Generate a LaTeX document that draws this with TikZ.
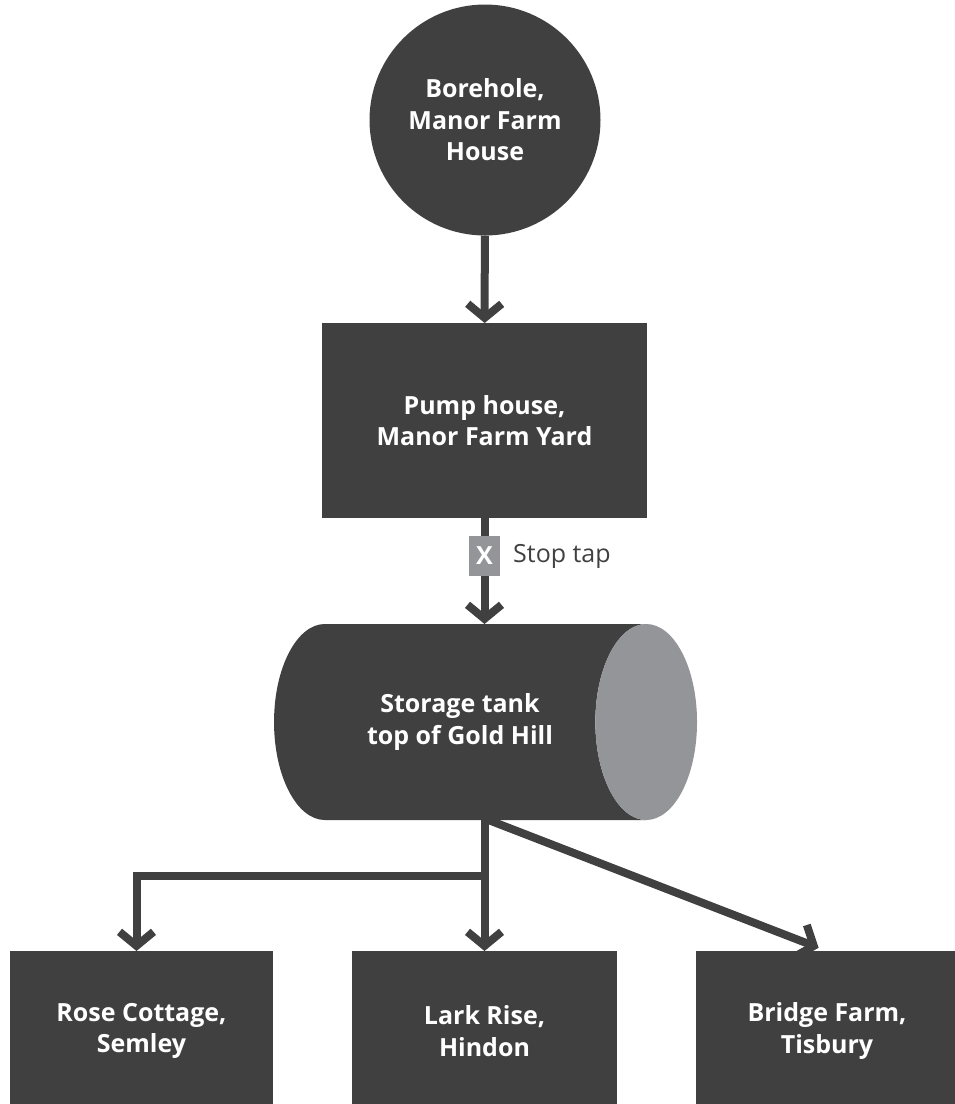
\documentclass[tikz,border=0pt]{standalone}
\usepackage{fontspec}
\setmainfont{Open Sans}
\usetikzlibrary{arrows.meta,shapes.geometric,positioning}
\definecolor{boxdark}{HTML}{404040}
\definecolor{capgrey}{HTML}{939598}
\begin{document}
\begin{tikzpicture}[x=1pt, y=-1pt, line join=miter, >={Straight Barb[length=14pt,width=34pt]},
	box/.style={rectangle, fill=boxdark, text=white, font=\fontsize{25}{31.5}\selectfont\bfseries,
		align=center, inner sep=0pt, outer sep=0pt},
	flow/.style={draw=boxdark, line width=8pt, ->}]
	\useasboundingbox (0,0) rectangle (955,1104);
	\node[box, circle, minimum size=231] (borehole) at (485,120) {Borehole,\\Manor Farm\\House};
	\node[box, minimum width=325, minimum height=195] (pump) at (484.5,420.5) {Pump house,\\Manor Farm Yard};
	\node[box, fill=capgrey, minimum width=31, minimum height=40] (tap) at (484.5,556) {X};
	\node[right=13pt of tap, text=boxdark, font=\fontsize{25}{31.5}\selectfont, inner sep=0pt] (taplabel) {Stop tap};
	\node[box, fill=none, cylinder, aspect=1.8, minimum height=423, minimum width=196, cylinder uses custom fill,
		cylinder body fill=boxdark, cylinder end fill=capgrey] (tank) at (460,722) {Storage tank\\top of Gold Hill};
	\node[box, minimum width=263, minimum height=160] (rose) at (141.5,1031) {Rose Cottage,\\Semley};
	\node[box, minimum width=265, minimum height=160] (lark) at (484.5,1031) {Lark Rise,\\Hindon};
	\node[box, minimum width=262, minimum height=160] (bridge) at (827,1031) {Bridge Farm,\\Tisbury};
	\coordinate (split) at (484.5,876);
	\draw[flow] (borehole) -- (pump);
	\draw[flow, -] (pump) -- (tap);
	\draw[flow] (tap) -- (tap |- tank.north);
	\draw[flow] (lark |- tank.south) -- (lark);
	\draw[flow] (split) -| ([xshift=-5pt]rose.north);
	\draw[flow, shorten >=9pt] ([xshift=4pt]lark |- tank.south) -- (bridge.north);
\end{tikzpicture}
\end{document}
